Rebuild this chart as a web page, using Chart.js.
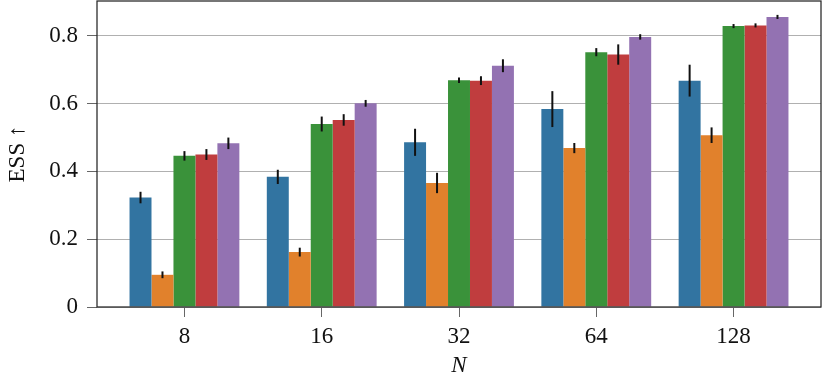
<!DOCTYPE html>
<html>
<head>
<meta charset="utf-8">
<script src="https://cdn.jsdelivr.net/npm/chart.js@4/dist/chart.umd.min.js"></script>
<style>
  body { margin: 0; background: #fff; }
  #wrap { width: 822px; height: 384px; }
</style>
</head>
<body>
<div id="wrap"><canvas id="essChart"></canvas></div>
<script>
// N values on the x axis
const categories = ['8', '16', '32', '64', '128'];
const yTicks = [0, 0.2, 0.4, 0.6, 0.8];

// mean ESS per series, one entry per N
const blueVals   = [0.323, 0.384, 0.486, 0.584, 0.668];
const orangeVals = [0.095, 0.162, 0.366, 0.469, 0.507];
const greenVals  = [0.446, 0.540, 0.669, 0.752, 0.829];
const redVals    = [0.450, 0.552, 0.668, 0.745, 0.831];
const purpleVals = [0.483, 0.601, 0.712, 0.797, 0.856];

// half-length of the error bars
const blueErr   = [0.017, 0.021, 0.040, 0.053, 0.047];
const orangeErr = [0.010, 0.013, 0.030, 0.015, 0.023];
const greenErr  = [0.014, 0.022, 0.008, 0.012, 0.006];
const redErr    = [0.016, 0.017, 0.013, 0.030, 0.006];
const purpleErr = [0.017, 0.010, 0.019, 0.008, 0.006];

const series = [
    { vals: blueVals,   err: blueErr,   color: '#3274a1' },
    { vals: orangeVals, err: orangeErr, color: '#e1812c' },
    { vals: greenVals,  err: greenErr,  color: '#3a923a' },
    { vals: redVals,    err: redErr,    color: '#c03d3e' },
    { vals: purpleVals, err: purpleErr, color: '#9372b2' }
];

const FONT = "'Liberation Serif', 'DejaVu Serif', serif";

const errorBars = {
    id: 'errorBars',
    afterDatasetsDraw(chart) {
        const c = chart.ctx;
        const y = chart.scales.y;
        c.save();
        c.strokeStyle = '#111';
        c.lineWidth = 2;
        chart.data.datasets.forEach((ds, di) => {
            const meta = chart.getDatasetMeta(di);
            meta.data.forEach((bar, i) => {
                const v = ds.data[i].y, e = ds.errs[i];
                c.beginPath();
                c.moveTo(bar.x, y.getPixelForValue(v - e));
                c.lineTo(bar.x, y.getPixelForValue(v + e));
                c.stroke();
            });
        });
        c.restore();
    }
};

const frame = {
    id: 'frame',
    afterDraw(chart) {
        const a = chart.chartArea;
        const c = chart.ctx;
        c.save();
        c.strokeStyle = '#262626';
        c.lineWidth = 1.25;
        c.strokeRect(a.left, a.top, a.right - a.left, a.bottom - a.top);
        c.restore();
    }
};

new Chart(document.getElementById('essChart'), {
    type: 'bar',
    data: {
        datasets: series.map(s => ({
            data: s.vals.map((v, i) => ({ x: i, y: v })),
            errs: s.err,
            backgroundColor: s.color,
            borderWidth: 0
        }))
    },
    options: {
        responsive: true,
        maintainAspectRatio: false,
        animation: false,
        layout: { padding: { top: 1, right: 1 } },
        categoryPercentage: 0.8,
        barPercentage: 1.0,
        plugins: {
            legend: { display: false },
            tooltip: { enabled: false }
        },
        scales: {
            x: {
                type: 'linear',
                offset: false,
                min: -0.637,
                max: 4.637,
                afterBuildTicks: s => { s.ticks = categories.map((_, i) => ({ value: i })); },
                afterFit: s => { s.height = 77; s.paddingLeft = 0; s.paddingRight = 0; },
                border: { display: false },
                grid: {
                    offset: false,
                    drawOnChartArea: false,
                    tickLength: 10,
                    tickColor: '#666'
                },
                ticks: {
                    padding: 6,
                    color: '#111',
                    font: { family: FONT, size: 23 },
                    callback: v => categories[v]
                },
                title: {
                    display: true,
                    text: 'N',
                    color: '#111',
                    padding: { top: 0, bottom: 4 },
                    font: { family: FONT, size: 23, style: 'italic' }
                }
            },
            y: {
                min: 0,
                max: 0.903,
                afterBuildTicks: s => { s.ticks = yTicks.map(v => ({ value: v })); },
                afterFit: s => { s.width = 97; s.paddingTop = 0; s.paddingBottom = 0; },
                border: { display: false },
                grid: {
                    color: '#b0b0b0',
                    lineWidth: 1,
                    tickLength: 10,
                    tickColor: '#666'
                },
                ticks: {
                    padding: 9,
                    color: '#111',
                    font: { family: FONT, size: 23 },
                    callback: v => v === 0 ? '0' : v.toFixed(1)
                },
                title: {
                    display: true,
                    text: 'ESS ↑',
                    color: '#111',
                    padding: { top: 4, bottom: 0 },
                    font: { family: FONT, size: 23 }
                }
            }
        }
    },
    plugins: [errorBars, frame]
});
</script>
</body>
</html>
